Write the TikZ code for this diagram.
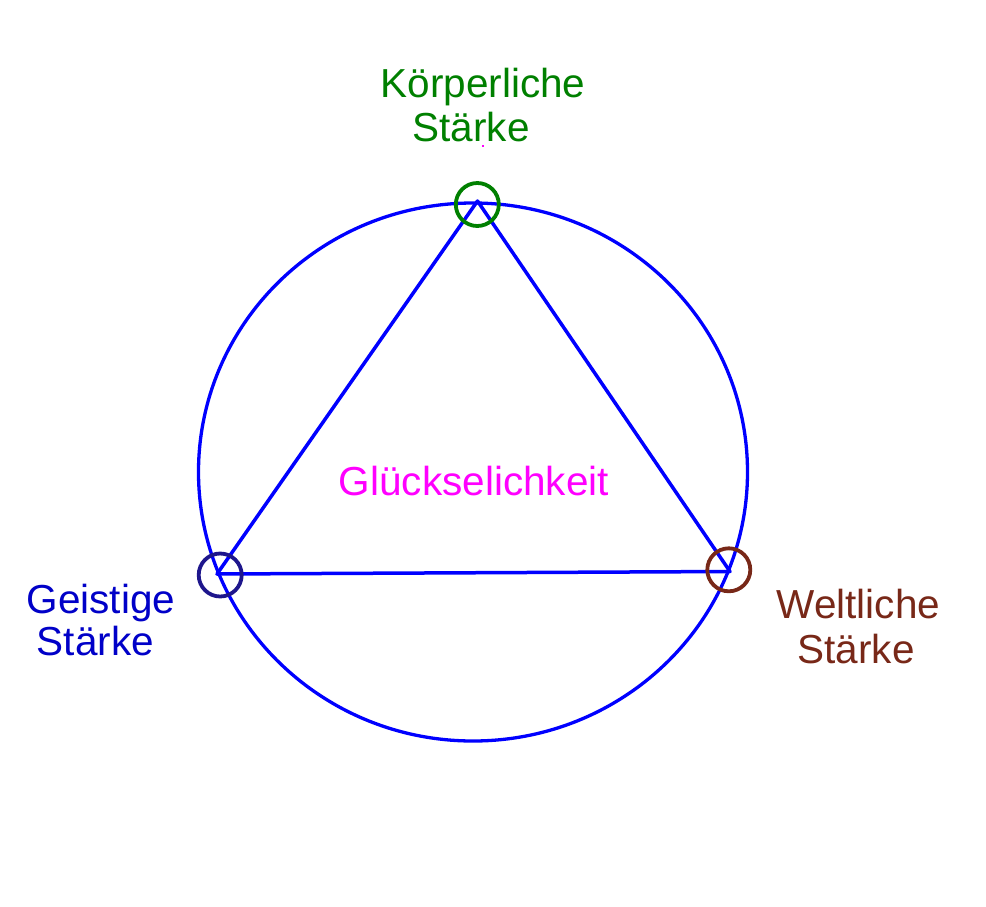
\documentclass[tikz,border=0pt]{standalone}
\usepackage{fontspec}
\setmainfont{Liberation Sans}
\definecolor{lineblue}{RGB}{0,0,255}
\definecolor{kgreen}{RGB}{0,128,0}
\definecolor{gblue}{RGB}{0,0,200}
\definecolor{gcircle}{RGB}{30,22,140}
\definecolor{wbrown}{RGB}{120,40,24}
\definecolor{gmag}{RGB}{255,0,255}
\begin{document}
\begin{tikzpicture}[x=1pt,y=-1pt,
  lbl/.style={anchor=base,inner sep=0pt,font=\fontsize{40.5}{44}\selectfont},
  ring/.style={circle,draw,line width=3.8pt,minimum size=43pt,inner sep=0pt},
  edge/.style={draw=lineblue,line width=3.5pt,line join=round}]
\useasboundingbox (0,0) rectangle (986,906);
\fill[white] (0,0) rectangle (986,906);
% big circle
\draw[lineblue,line width=3.3pt] (473,472) ellipse [x radius=274.5, y radius=269];
% triangle
\coordinate (top) at (477.5,201);
\coordinate (left) at (217,574);
\coordinate (right) at (730,571.5);
\draw[edge] (top) -- (left) -- (right) -- cycle;
% small circles
\node[ring,draw=kgreen] (ct) at (477.3,204.5) {};
\node[ring,draw=gcircle] (cl) at (220.2,575) {};
\node[ring,draw=wbrown] (cr) at (728.8,569.8) {};
% labels
\node[lbl,text=kgreen] (k1) at (483,97) {Körperliche};
\node[lbl,text=kgreen] (k2) at (471,141) {Stärke};
\node[lbl,text=gblue] (g1) at (101,613) {Geistige};
\node[lbl,text=gblue] (g2) at (95.5,655) {Stärke};
\node[lbl,text=wbrown] (w1) at (858.5,618) {Weltliche};
\node[lbl,text=wbrown] (w2) at (856,663) {Stärke};
\node[lbl,text=gmag] (gl) at (474,495) {Glückselichkeit};
\fill[gmag] (482,145) rectangle (484,147);
\end{tikzpicture}
\end{document}
